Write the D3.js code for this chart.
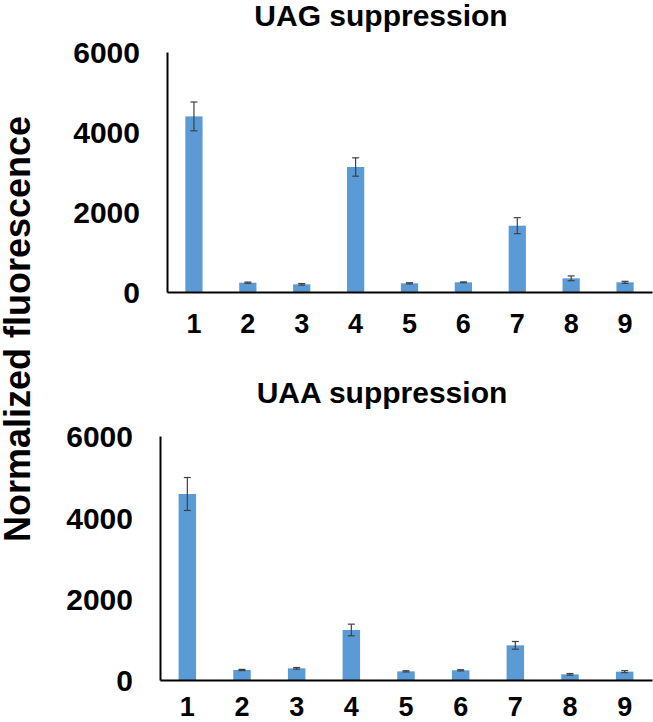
<!DOCTYPE html>
<html>
<head>
<meta charset="utf-8">
<script src="https://cdn.jsdelivr.net/npm/d3@7"></script>
<style>
  body { margin: 0; background: #fff; }
  text { font-family: "Liberation Sans", Arial, sans-serif; font-weight: bold; fill: #000; }
</style>
</head>
<body>
<svg id="chart" width="653" height="722"></svg>
<script>
// lanes on the x axis
const lanes = ["1", "2", "3", "4", "5", "6", "7", "8", "9"];
const yTicks = [0, 2000, 4000, 6000];

// UAG suppression
const uagMeans = [4390, 233, 192, 3125, 217, 242, 1658, 342, 242];
const uagErrors = [360, 15, 20, 230, 15, 10, 200, 60, 25];

// UAA suppression
const uaaMeans = [4574, 246, 287, 1230, 213, 238, 852, 139, 205];
const uaaErrors = [405, 15, 20, 143, 15, 15, 95, 20, 25];

const barColor = "#5b9bd5";
const errColor = "#404040";

const svg = d3.select("#chart");

function drawPanel(title, means, errors, box) {
  const x = d3.scaleBand()
    .domain(lanes)
    .range([box.left, box.right])
    .paddingInner(0.68)
    .paddingOuter(0.34);

  const y = d3.scaleLinear()
    .domain([0, 6000])
    .range([box.bottom, box.top]);

  const g = svg.append("g");

  g.selectAll("rect.bar")
    .data(means)
    .enter()
    .append("rect")
    .attr("class", "bar")
    .attr("x", (d, i) => x(lanes[i]))
    .attr("y", (d) => y(d))
    .attr("width", x.bandwidth())
    .attr("height", (d) => y(0) - y(d))
    .attr("fill", barColor);

  // error bars
  const capW = 3.5;
  const cx = (i) => x(lanes[i]) + x.bandwidth() / 2;
  const err = g.selectAll("g.err")
    .data(means)
    .enter()
    .append("g")
    .attr("class", "err")
    .attr("stroke", errColor)
    .attr("stroke-width", 1.2);
  err.append("line")
    .attr("x1", (d, i) => cx(i))
    .attr("x2", (d, i) => cx(i))
    .attr("y1", (d, i) => y(d + errors[i]))
    .attr("y2", (d, i) => y(d - errors[i]));
  err.append("line")
    .attr("x1", (d, i) => cx(i) - capW)
    .attr("x2", (d, i) => cx(i) + capW)
    .attr("y1", (d, i) => y(d + errors[i]))
    .attr("y2", (d, i) => y(d + errors[i]));
  err.append("line")
    .attr("x1", (d, i) => cx(i) - capW)
    .attr("x2", (d, i) => cx(i) + capW)
    .attr("y1", (d, i) => y(d - errors[i]))
    .attr("y2", (d, i) => y(d - errors[i]));

  // y axis
  const yAxis = g.append("g")
    .attr("transform", `translate(${box.left},0)`)
    .call(d3.axisLeft(y).tickValues(yTicks).tickSize(0).tickPadding(27).tickFormat(d3.format("d")));
  yAxis.select(".domain").attr("stroke", "#000").attr("stroke-width", 2);
  yAxis.selectAll("text")
    .style("font-size", "30px")
    .attr("dy", "0.36em");

  // x axis
  const xAxis = g.append("g")
    .attr("transform", `translate(0,${box.bottom})`)
    .call(d3.axisBottom(x).tickSize(0).tickPadding(0));
  xAxis.select(".domain").attr("stroke", "#000").attr("stroke-width", 2.2);
  xAxis.selectAll("text")
    .style("font-size", "27px")
    .attr("dy", null)
    .attr("y", box.tickBase - box.bottom);

  svg.append("text")
    .attr("x", box.titleX)
    .attr("y", box.titleY)
    .attr("text-anchor", "middle")
    .style("font-size", "30px")
    .text(title);
}

drawPanel("UAG suppression", uagMeans, uagErrors,
  { left: 167, right: 652, top: 52, bottom: 292, tickBase: 333, titleX: 381, titleY: 26 });
drawPanel("UAA suppression", uaaMeans, uaaErrors,
  { left: 160, right: 652, top: 436, bottom: 680, tickBase: 716, titleX: 382, titleY: 403 });

svg.append("text")
  .attr("transform", "translate(30,329) rotate(-90)")
  .attr("text-anchor", "middle")
  .style("font-size", "36px")
  .text("Normalized fluorescence");
</script>
</body>
</html>
